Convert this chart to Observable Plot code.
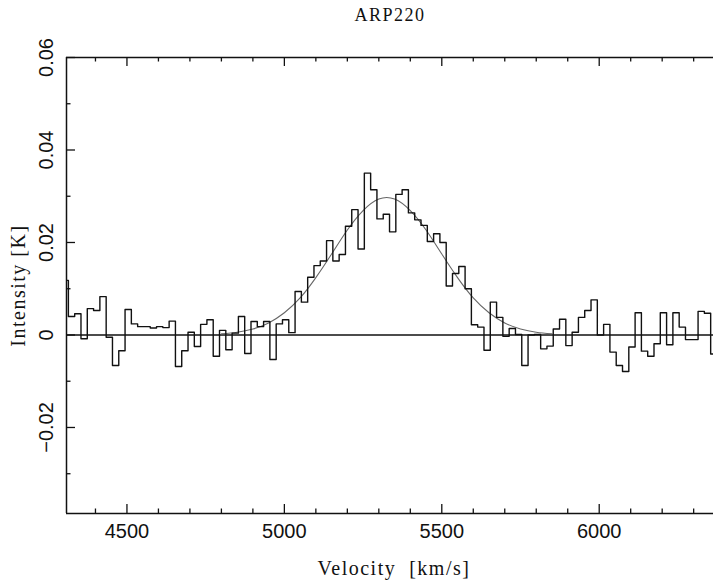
<!DOCTYPE html>
<html><head><meta charset="utf-8">
<script src="https://cdn.jsdelivr.net/npm/d3@7"></script>
<script src="https://cdn.jsdelivr.net/npm/@observablehq/plot@0.6"></script>
<style>body{margin:0;background:#fff}</style>
</head><body><div id="chart"></div>
<script>
const title = "ARP220";
const xLabel = "Velocity\u00a0\u00a0[km/s]";
const yLabel = "Intensity [K]";

// channel grid of the spectrum (km/s)
const firstChannelVelocity = 4304;
const channelWidth = 20;

const intensity = [
  0.0118, 0.0040, 0.0046, -0.0008, 0.0057, 0.0053, 0.0083, -0.0005, -0.0066, -0.0034,
  0.0055, 0.0024, 0.0018, 0.0018, 0.0015, 0.0018, 0.0016, 0.0030, -0.0068, -0.0034,
  0.0006, -0.0025, 0.0023, 0.0033, -0.0046, 0.0010, -0.0032, 0.0004, 0.0040, -0.0040,
  0.0029, 0.0018, 0.0029, -0.0053, 0.0024, 0.0033, 0.0005, 0.0094, 0.0071, 0.0125,
  0.0150, 0.0160, 0.0204, 0.0160, 0.0174, 0.0235, 0.0271, 0.0186, 0.0350, 0.0314,
  0.0251, 0.0261, 0.0223, 0.0304, 0.0314, 0.0264, 0.0249, 0.0237, 0.0202, 0.0219,
  0.0200, 0.0106, 0.0133, 0.0148, 0.0100, 0.0022, 0.0017, -0.0033, 0.0071, 0.0038,
  -0.0003, 0.0014, 0.0001, -0.0066, 0.0000, 0.0001, -0.0030, -0.0024, 0.0013, 0.0034,
  -0.0023, 0.0006, 0.0038, 0.0053, 0.0076, 0.0000, 0.0023, -0.0037, -0.0066, -0.0079,
  -0.0026, 0.0048, -0.0035, -0.0046, -0.0019, 0.0048, -0.0021, 0.0048, 0.0017, -0.0010,
  -0.0010, 0.0051, 0.0047, -0.0041
];

// fitted profile, points
const fitVelocity  = [4800, 4850, 4900, 4950, 5000, 5050, 5100, 5150, 5200, 5250, 5300, 5350, 5400, 5450, 5500, 5550, 5600, 5650, 5700, 5750, 5800, 5850];
const fitIntensity = [0.00025, 0.0006, 0.0013, 0.0026, 0.0048, 0.0080, 0.0124, 0.0175, 0.0227, 0.0269, 0.0294, 0.0294, 0.0269, 0.0227, 0.0175, 0.0124, 0.0080, 0.0048, 0.0026, 0.0013, 0.0006, 0.00025];

const xMajorTicks = [4500, 5000, 5500, 6000];
const xMinorTicks = [4400, 4600, 4700, 4800, 4900, 5100, 5200, 5300, 5400, 5600, 5700, 5800, 5900, 6100, 6200, 6300];
const yMajorTicks = [-0.02, 0, 0.02, 0.04, 0.06];
const yMinorTicks = [-0.03, -0.01, 0.01, 0.03, 0.05];
const xTickLabels = ["4500", "5000", "5500", "6000"];
const yTickLabels = ["\u22120.02", "0", "0.02", "0.04", "0.06"];

const spectrum = intensity.map((t, i) => ({v: firstChannelVelocity + i * channelWidth, t}));
const fit = fitVelocity.map((v, i) => ({v, t: fitIntensity[i]}));

const W = 713, H = 583, mL = 66, mR = 0, mT = 57, mB = 70;
const frameW = W - mL - mR, frameH = H - mT - mB;
const xDomain = [4308, 6363], yDomain = [-0.0386, 0.06];
const majorLen = 9, minorLen = 4.5;
const serif = "'Liberation Serif', 'DejaVu Serif', serif";
const sans = "'Liberation Sans', 'DejaVu Sans', sans-serif";
const ink = "#111";
const mid = {textAnchor: "middle", lineAnchor: "middle"};

const chart = Plot.plot({
  width: W, height: H,
  marginLeft: mL, marginRight: mR, marginTop: mT, marginBottom: mB,
  x: {domain: xDomain, axis: null},
  y: {domain: yDomain, axis: null},
  marks: [
    Plot.ruleY([0], {stroke: ink, strokeWidth: 1.4}),
    Plot.line(fit, {x: "v", y: "t", curve: "natural", stroke: "#666", strokeWidth: 1.1}),
    Plot.line(spectrum, {x: "v", y: "t", curve: "step", stroke: ink, strokeWidth: 1.4, clip: true}),
    // frame (left, top, bottom)
    Plot.ruleX([xDomain[0]], {stroke: ink, strokeWidth: 1.5}),
    Plot.ruleY([yDomain[0], yDomain[1]], {stroke: ink, strokeWidth: 1.5}),
    // inward ticks
    Plot.ruleX(xMajorTicks, {insetTop: frameH - majorLen, stroke: ink, strokeWidth: 1.3}),
    Plot.ruleX(xMajorTicks, {insetBottom: frameH - majorLen, stroke: ink, strokeWidth: 1.3}),
    Plot.ruleX(xMinorTicks, {insetTop: frameH - minorLen, stroke: ink, strokeWidth: 1.3}),
    Plot.ruleX(xMinorTicks, {insetBottom: frameH - minorLen, stroke: ink, strokeWidth: 1.3}),
    Plot.ruleY(yMajorTicks, {insetRight: frameW - majorLen, stroke: ink, strokeWidth: 1.3}),
    Plot.ruleY(yMinorTicks, {insetRight: frameW - minorLen, stroke: ink, strokeWidth: 1.3}),
    // tick labels
    Plot.text(xMajorTicks, {x: d => d, text: (d, i) => xTickLabels[i], frameAnchor: "bottom", ...mid, dy: 18, fontSize: 20, fontFamily: sans, fill: ink}),
    Plot.text(yMajorTicks, {y: d => d, text: (d, i) => yTickLabels[i], frameAnchor: "left", ...mid, dx: -19.5, rotate: -90, fontSize: 20, fontFamily: sans, fill: ink}),
    // title and axis labels
    Plot.text([title], {text: d => d, frameAnchor: "top", ...mid, dy: -42, fontSize: 18, fontFamily: serif, fill: ink}),
    Plot.text([xLabel], {text: d => d, frameAnchor: "bottom", ...mid, dx: 4, dy: 55, fontSize: 20, fontFamily: serif, fill: ink}),
    Plot.text([yLabel], {text: d => d, frameAnchor: "left", ...mid, dx: -48, rotate: -90, fontSize: 20, fontFamily: serif, fill: ink})
  ]
});
chart.querySelectorAll("g[font-family*='Serif'] text").forEach(t => t.setAttribute("letter-spacing", "1.5"));
document.getElementById("chart").appendChild(chart);
</script>
</body></html>
